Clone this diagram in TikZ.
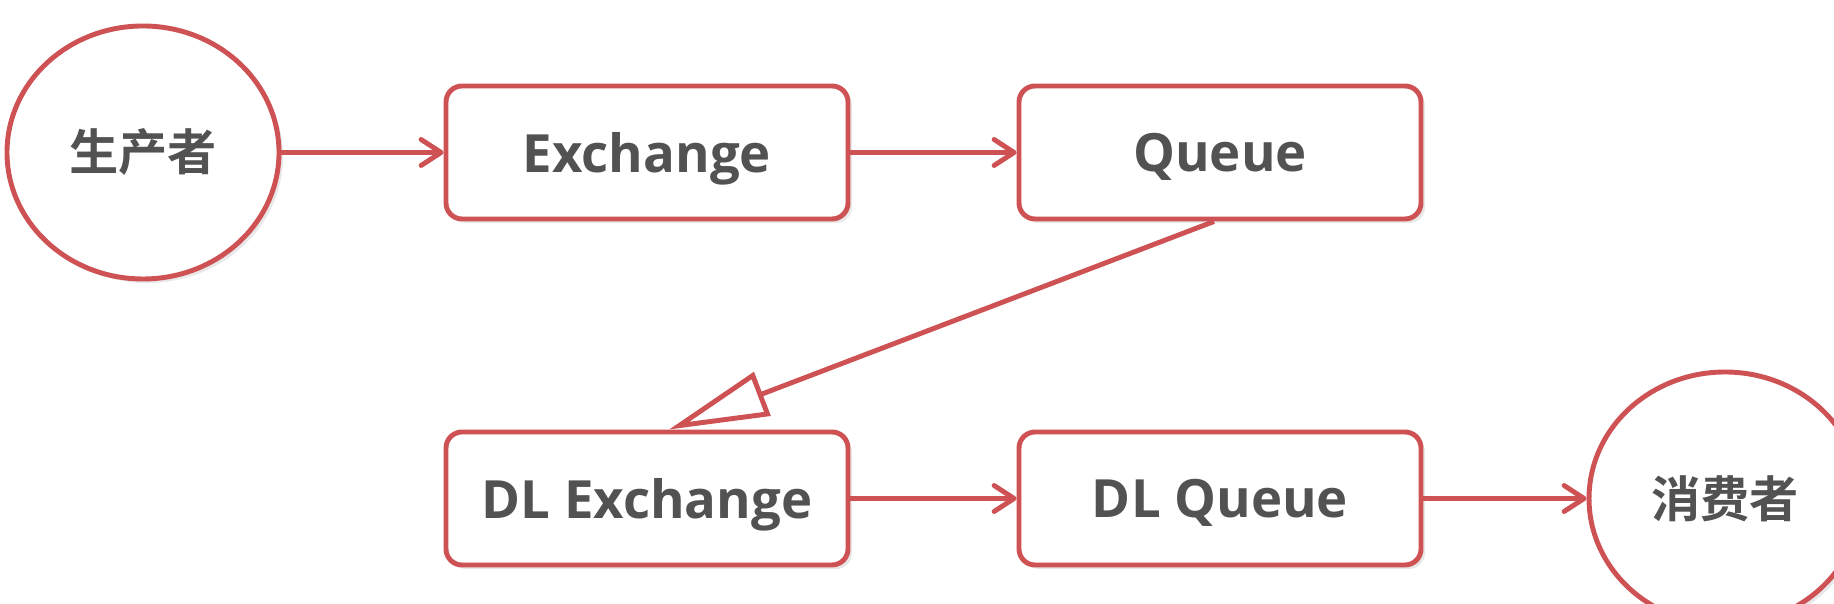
\documentclass[tikz,border=0pt]{standalone}
\usepackage{fontspec}
\setmainfont{Open Sans}
\newfontfamily\cjk{Noto Sans CJK SC}[BoldFont={Noto Sans CJK SC Bold}]
\usetikzlibrary{arrows.meta,shapes.geometric,shadows}

\definecolor{linered}{RGB}{206,82,84}
\definecolor{textgray}{RGB}{82,82,82}

\begin{document}
\begin{tikzpicture}[
    box/.style={draw=linered, line width=1.4pt, fill=white, rounded corners=0.16cm,
      minimum width=4.02cm, minimum height=1.33cm, text=textgray, text depth=0pt,
      font=\bfseries\fontsize{15}{18}\selectfont,
      drop shadow={opacity=0.18, shadow xshift=0.04cm, shadow yshift=-0.04cm}},
    actor/.style={draw=linered, line width=1.4pt, fill=white, ellipse, inner sep=0pt,
      minimum width=2.72cm, minimum height=2.53cm, text=textgray,
      font=\cjk\bfseries\fontsize{14}{17}\selectfont,
      drop shadow={opacity=0.18, shadow xshift=0.04cm, shadow yshift=-0.04cm}},
    flow/.style={draw=linered, line width=1.4pt,
      -{Straight Barb[length=0.2cm, width=0.26cm, round]}},
    dead/.style={draw=linered, line width=1.4pt, -{Triangle[open, fill=white, length=1cm, width=0.46cm]}}
  ]
  \useasboundingbox[fill=white] (0,0) rectangle (18.34,6.04);

  \node[actor] (prod)  at (1.43,4.515) {生产者};
  \node[box]   (exch)  at (6.47,4.515) {Exchange};
  \node[box]   (queue) at (12.20,4.515) {Queue};
  \node[box]   (dlx)   at (6.47,1.055) {DL Exchange};
  \node[box]   (dlq)   at (12.20,1.055) {DL Queue};
  \node[actor] (cons)  at (17.25,1.055) {消费者};

  \foreach \a/\b in {prod/exch, exch/queue, dlx/dlq, dlq/cons} {
    \draw[flow] (\a) -- (\b);
  }

  \draw[dead] ([xshift=-0.06cm]queue.south) -- ([xshift=0.22cm]dlx.north);
\end{tikzpicture}
\end{document}
